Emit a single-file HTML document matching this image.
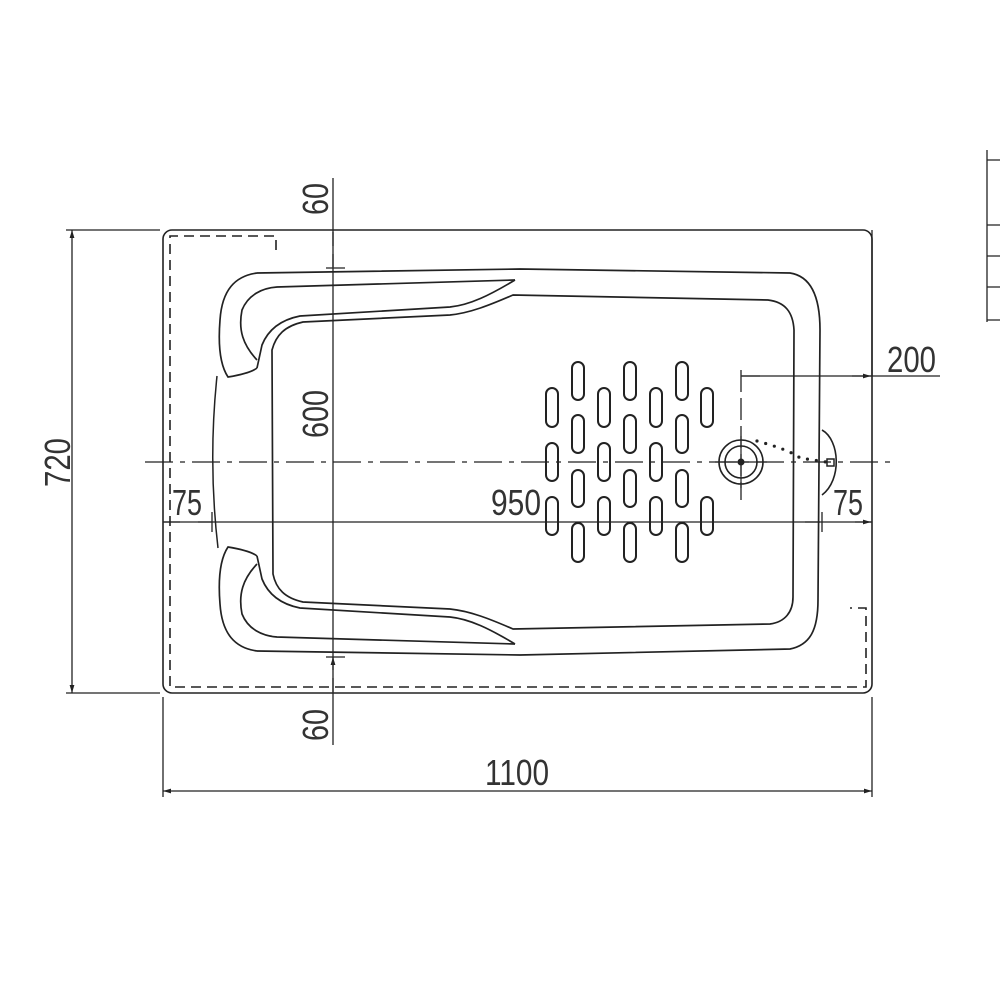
<!DOCTYPE html>
<html><head><meta charset="utf-8"><style>html,body{margin:0;padding:0;background:#fff}svg{display:block}</style></head>
<body>
<svg width="1000" height="1000" viewBox="0 0 1000 1000" xmlns="http://www.w3.org/2000/svg">
<defs>
<marker id="a" viewBox="0 0 10 6" refX="10" refY="3" markerWidth="8" markerHeight="5" orient="auto-start-reverse" markerUnits="userSpaceOnUse"><path d="M0,0 L10,3 L0,6z" fill="#222"/></marker>
</defs>
<g fill="none" stroke="#222" stroke-width="1.6">
<rect x="163" y="230" width="709" height="463" rx="9"/>
<path d="M276,250 V236 H170 V687 H866 V608 H850" stroke-dasharray="10,6"/>
<path d="M145,462 H890" stroke-width="1.3" stroke-dasharray="28,7,5,7"/>
<path d="M66,230 H160 M66,693 H160" stroke-width="1.3"/>
<path d="M72,230 V693" stroke-width="1.3" marker-start="url(#a)" marker-end="url(#a)"/>
<path d="M163,697 V797 M872,697 V797" stroke-width="1.3"/>
<path d="M163,791 H872" stroke-width="1.3" marker-start="url(#a)" marker-end="url(#a)"/>
<path d="M333,178 V745" stroke-width="1.3"/>
<path d="M333,246 V232 M333,254 V267 M333,678 V692 M333,670 V657" stroke-width="1.3" marker-end="url(#a)"/>
<path d="M326,268 H345 M326,657 H345" stroke-width="1.3"/>
<path d="M163,522 H872" stroke-width="1.3"/>
<path d="M180,522 H164 M198,522 H212 M805,522 H820 M855,522 H871" stroke-width="1.3" marker-end="url(#a)"/>
<path d="M822,512 V532 M212,512 V532" stroke-width="1.3"/>
<path d="M741,370 V500" stroke-width="1.3" stroke-dasharray="22,6"/>
<path d="M741,376 H940" stroke-width="1.3"/>
<path d="M760,376 H742 M852,376 H871" stroke-width="1.3" marker-end="url(#a)"/>
<path d="M872,230 V376" stroke-width="1.3"/>
<!-- outer rim -->
<path d="M257,273 L520,269 L790,273 C810,276 820,295 820,330 L818,600 C818,630 810,645 790,649 L520,655 L257,651" stroke-width="1.7"/>
<!-- headrests outer -->
<path d="M257,273 C235,276 222,290 220,320 C218,345 220,365 228,377 C240,375 252,372 257,368" stroke-width="1.7"/>
<path d="M257,651 C235,648 222,634 220,604 C218,579 220,559 228,547 C240,549 252,552 257,556" stroke-width="1.7"/>
<!-- line B -->
<path d="M257,360 C243,345 238,330 242,310 C248,295 262,288 277,287 L515,280" stroke-width="1.7"/>
<path d="M257,564 C243,579 238,594 242,614 C248,629 262,636 277,637 L515,644" stroke-width="1.7"/>
<!-- line A -->
<path d="M515,280 C490,295 470,305 450,307 L300,316 C280,320 268,330 262,345 L257,368" stroke-width="1.7"/>
<path d="M515,644 C490,629 470,619 450,617 L300,608 C280,604 268,594 262,579 L257,556" stroke-width="1.7"/>
<!-- basin inner -->
<path d="M513,295 L768,300 C785,302 793,312 794,330 L793,597 C793,612 785,622 770,624 L513,629 C490,619 470,611 450,609 L303,602 C285,598 276,589 273,574 L272,350 C276,335 285,326 303,322 L450,315 C470,313 490,305 513,295 Z" stroke-width="1.7"/>
<path d="M217,376 Q208,462 218,548" stroke-width="1.5"/>
<circle cx="741" cy="462" r="22" stroke-width="1.6"/>
<circle cx="741" cy="462" r="16" stroke-width="1.6"/>
<path d="M741,436 V488 M715,462 H767" stroke-width="1.2"/>
<path d="M822,430 C840,440 842,480 822,495" stroke-width="1.6"/>
<rect x="827" y="459" width="7" height="7" stroke-width="1.5"/>
<path d="M757,441 Q790,450 800,458 L826,462" stroke-width="3.2" stroke-linecap="round" stroke-dasharray="0,9"/>
<path d="M987,150 V322 M987,160 H1000 M987,225 H1000 M987,256 H1000 M987,287 H1000 M987,320 H1000" stroke-width="1.3"/>
</g>
<circle cx="741" cy="462" r="3.5" fill="#222"/>
<g fill="none" stroke="#222" stroke-width="2">
<rect x="546" y="388" width="12" height="39" rx="6"/><rect x="546" y="443" width="12" height="38" rx="6"/><rect x="546" y="497" width="12" height="38" rx="6"/>
<rect x="572" y="362" width="12" height="38" rx="6"/><rect x="572" y="415" width="12" height="38" rx="6"/><rect x="572" y="470" width="12" height="37" rx="6"/><rect x="572" y="523" width="12" height="39" rx="6"/>
<rect x="598" y="388" width="12" height="39" rx="6"/><rect x="598" y="443" width="12" height="38" rx="6"/><rect x="598" y="497" width="12" height="38" rx="6"/>
<rect x="624" y="362" width="12" height="38" rx="6"/><rect x="624" y="415" width="12" height="38" rx="6"/><rect x="624" y="470" width="12" height="37" rx="6"/><rect x="624" y="523" width="12" height="39" rx="6"/>
<rect x="650" y="388" width="12" height="39" rx="6"/><rect x="650" y="443" width="12" height="38" rx="6"/><rect x="650" y="497" width="12" height="38" rx="6"/>
<rect x="676" y="362" width="12" height="38" rx="6"/><rect x="676" y="415" width="12" height="38" rx="6"/><rect x="676" y="470" width="12" height="37" rx="6"/><rect x="676" y="523" width="12" height="39" rx="6"/>
<rect x="701" y="388" width="12" height="39" rx="6"/><rect x="701" y="497" width="12" height="38" rx="6"/>
</g>
<g font-family="Liberation Sans, sans-serif" font-size="36" fill="#333">
<text x="887" y="372" textLength="49" lengthAdjust="spacingAndGlyphs">200</text>
<text x="833" y="515" textLength="30" lengthAdjust="spacingAndGlyphs">75</text>
<text x="172" y="515" textLength="30" lengthAdjust="spacingAndGlyphs">75</text>
<text x="491" y="515" textLength="50" lengthAdjust="spacingAndGlyphs">950</text>
<text x="485" y="785" textLength="64" lengthAdjust="spacingAndGlyphs">1100</text>
<text transform="translate(70,487) rotate(-90)" textLength="49" lengthAdjust="spacingAndGlyphs">720</text>
<text transform="translate(328,215) rotate(-90)" textLength="32" lengthAdjust="spacingAndGlyphs">60</text>
<text transform="translate(328,438) rotate(-90)" textLength="48" lengthAdjust="spacingAndGlyphs">600</text>
<text transform="translate(328,741) rotate(-90)" textLength="32" lengthAdjust="spacingAndGlyphs">60</text>
</g>
</svg>
</body></html>
